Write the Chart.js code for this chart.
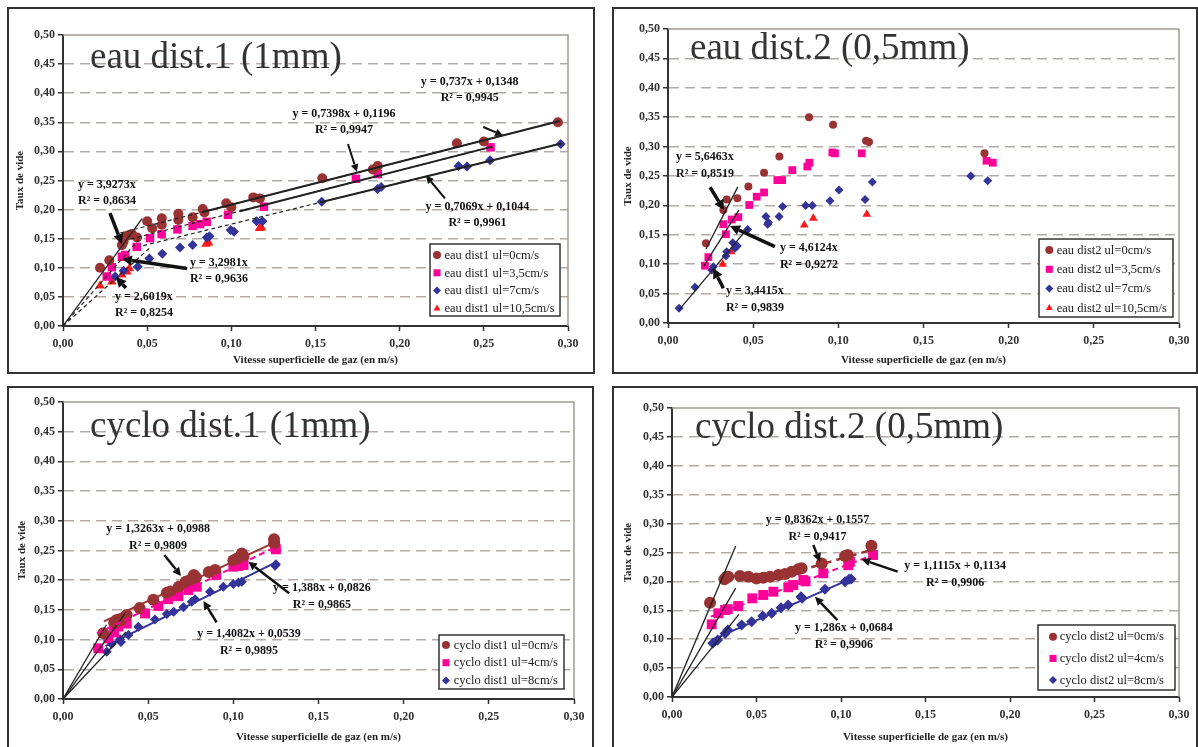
<!DOCTYPE html>
<html>
<head>
<meta charset="utf-8">
<script src="https://cdn.jsdelivr.net/npm/chart.js@4.4.0/dist/chart.umd.min.js"></script>
<style>
  html, body { margin: 0; padding: 0; background: #fff; width: 1198px; height: 747px; overflow: hidden; }
  .panel { position: absolute; border: 2px solid #333; box-sizing: border-box; background: #fff; overflow: hidden; }
  .panel canvas { position: absolute; left: 0; top: 0; }
</style>
</head>
<body>
<div class="panel" style="left:7px;top:7px;width:588px;height:367px"><canvas id="c1" width="584" height="363"></canvas></div>
<div class="panel" style="left:612px;top:7px;width:586px;height:367px"><canvas id="c2" width="582" height="363"></canvas></div>
<div class="panel" style="left:7px;top:386px;width:587px;height:380px"><canvas id="c3" width="583" height="361"></canvas></div>
<div class="panel" style="left:612px;top:386px;width:586px;height:380px"><canvas id="c4" width="582" height="361"></canvas></div>
<script>
// ---- data (x = vitesse gaz m/s, y = taux de vide) ----
const eau1_ul0 = [[0.022,0.100],[0.0275,0.113],[0.035,0.139],[0.036,0.145],[0.038,0.155],[0.041,0.158],[0.044,0.152],[0.050,0.180],[0.053,0.168],[0.0587,0.185],[0.0587,0.174],[0.0685,0.193],[0.0685,0.182],[0.077,0.187],[0.083,0.201],[0.084,0.195],[0.097,0.211],[0.100,0.204],[0.113,0.221],[0.117,0.219],[0.154,0.254],[0.184,0.269],[0.187,0.275],[0.234,0.314],[0.250,0.317],[0.294,0.350]];
const eau1_ul35 = [[0.026,0.085],[0.029,0.101],[0.035,0.119],[0.037,0.122],[0.0438,0.136],[0.0517,0.151],[0.0586,0.158],[0.068,0.166],[0.077,0.172],[0.0814,0.175],[0.0854,0.179],[0.098,0.191],[0.1194,0.205],[0.174,0.253],[0.187,0.261],[0.254,0.307]];
const eau1_ul7 = [[0.031,0.085],[0.036,0.095],[0.0444,0.102],[0.0513,0.116],[0.059,0.124],[0.0695,0.135],[0.077,0.139],[0.0854,0.152],[0.087,0.154],[0.0996,0.165],[0.1016,0.162],[0.115,0.180],[0.1185,0.180],[0.1537,0.2135],[0.1868,0.2354],[0.189,0.239],[0.235,0.275],[0.240,0.274],[0.2537,0.285],[0.2957,0.3127]];
const eau1_ul105 = [[0.022,0.069],[0.029,0.076],[0.035,0.088],[0.038,0.093],[0.0394,0.099],[0.085,0.141],[0.0865,0.143],[0.1167,0.168],[0.118,0.169]];
// [slope, intercept, xStart, xEnd]
const eau1Fits = [[0.737,0.1348,0.034,0.295],[0.7398,0.1196,0.040,0.255],[0.7069,0.1044,0.0477,0.296],
  [0.737,0.1348,0.083,0.295],[0.7398,0.1196,0.105,0.255],[0.7069,0.1044,0.153,0.296],
  [3.9273,0,0,0.047],[3.2981,0,0,0.045],[2.6019,0,0,0.052]];

const eau2_ul0 = [[0.0223,0.1355],[0.0325,0.192],[0.0345,0.210],[0.0407,0.212],[0.0472,0.232],[0.0564,0.2556],[0.0654,0.283],[0.0828,0.350],[0.0969,0.337],[0.1163,0.310],[0.118,0.308],[0.1858,0.2886]];
const eau2_ul35 = [[0.0217,0.0975],[0.0237,0.112],[0.0325,0.168],[0.034,0.151],[0.0374,0.176],[0.0413,0.180],[0.0477,0.2007],[0.0521,0.2148],[0.0564,0.222],[0.0642,0.243],[0.067,0.243],[0.073,0.260],[0.0818,0.266],[0.083,0.2726],[0.0965,0.290],[0.098,0.2886],[0.1137,0.2886],[0.187,0.276],[0.1907,0.2726]];
const eau2_ul7 = [[0.0065,0.025],[0.0159,0.0607],[0.0257,0.090],[0.0266,0.0958],[0.034,0.114],[0.0345,0.121],[0.038,0.1366],[0.0393,0.127],[0.0407,0.131],[0.0468,0.159],[0.0575,0.181],[0.0585,0.168],[0.059,0.171],[0.0652,0.181],[0.0673,0.198],[0.0808,0.200],[0.0847,0.200],[0.0951,0.208],[0.1004,0.226],[0.1157,0.210],[0.120,0.240],[0.1777,0.250],[0.1877,0.242]];
const eau2_ul105 = [[0.0321,0.100],[0.037,0.121],[0.080,0.1667],[0.0853,0.178],[0.1167,0.185]];
const eau2Fits = [[5.6463,0,0.0223,0.041],[4.6124,0,0.021,0.0417],[3.4415,0,0.0065,0.047]];

const cyclo1_ul0 = [[0.0237,0.1106],[0.030,0.128],[0.0315,0.133],[0.034,0.133],[0.0374,0.1414],[0.045,0.153],[0.053,0.167],[0.061,0.179],[0.063,0.181],[0.068,0.189],[0.072,0.1975],[0.075,0.201],[0.0768,0.2088],[0.078,0.205],[0.0856,0.214],[0.0893,0.217],[0.100,0.233],[0.102,0.236],[0.105,0.245],[0.106,0.240],[0.1239,0.269],[0.124,0.262]];
const cyclo1_ul4 = [[0.0207,0.0853],[0.0266,0.102],[0.030,0.112],[0.0325,0.122],[0.0374,0.127],[0.0482,0.144],[0.056,0.1566],[0.0618,0.168],[0.0677,0.173],[0.0736,0.1835],[0.076,0.190],[0.0785,0.189],[0.090,0.209],[0.100,0.2227],[0.103,0.224],[0.106,0.2256],[0.1245,0.2564],[0.125,0.252]];
const cyclo1_ul8 = [[0.0257,0.0797],[0.0286,0.0926],[0.0335,0.1005],[0.034,0.096],[0.0384,0.1077],[0.0442,0.1217],[0.054,0.134],[0.061,0.143],[0.065,0.147],[0.0707,0.1544],[0.0756,0.1638],[0.0775,0.168],[0.0863,0.1806],[0.0941,0.189],[0.100,0.1936],[0.103,0.196],[0.105,0.1975],[0.1245,0.2244],[0.125,0.227]];
const cyclo1Fits = [[1.3263,0.0988,0.024,0.125],[1.388,0.0826,0.02,0.125],[1.4082,0.0539,0.025,0.125],
  [4.9,0,0,0.0255],[3.95,0,0,0.0365],[3.05,0,0,0.037]];

const cyclo2_ul0 = [[0.0225,0.163],[0.031,0.2036],[0.0324,0.208],[0.0333,0.208],[0.0402,0.2093],[0.0452,0.208],[0.050,0.205],[0.054,0.2065],[0.058,0.208],[0.063,0.211],[0.0669,0.2128],[0.0708,0.2168],[0.0747,0.221],[0.0767,0.2226],[0.0886,0.231],[0.1024,0.244],[0.104,0.2457],[0.118,0.2617]];
const cyclo2_ul4 = [[0.0235,0.1257],[0.0274,0.1448],[0.0314,0.1505],[0.033,0.152],[0.0392,0.1574],[0.0475,0.1707],[0.054,0.1765],[0.060,0.1822],[0.0688,0.1898],[0.0718,0.1938],[0.0777,0.2024],[0.079,0.200],[0.0895,0.214],[0.1043,0.228],[0.1053,0.234],[0.119,0.2457]];
const cyclo2_ul8 = [[0.0241,0.093],[0.027,0.0986],[0.0314,0.110],[0.033,0.116],[0.0412,0.1246],[0.0471,0.130],[0.0537,0.140],[0.059,0.1448],[0.0645,0.1545],[0.0688,0.159],[0.0763,0.1735],[0.077,0.171],[0.0905,0.1863],[0.1024,0.1995],[0.1047,0.2036],[0.106,0.204]];
const cyclo2Fits = [[0.8362,0.1557,0.075,0.12],[1.1115,0.1134,0.023,0.12],[1.286,0.0684,0.024,0.106],
  [6.93,0,0,0.0377],[5.0,0,0,0.0377],[3.61,0,0,0.0396]];

const eau1Names = ['eau dist1 ul=0cm/s','eau dist1 ul=3,5cm/s','eau dist1 ul=7cm/s','eau dist1 ul=10,5cm/s'];
const eau2Names = ['eau dist2 ul=0cm/s','eau dist2 ul=3,5cm/s','eau dist2 ul=7cm/s','eau dist2 ul=10,5cm/s'];
const cyclo1Names = ['cyclo dist1 ul=0cm/s','cyclo dist1 ul=4cm/s','cyclo dist1 ul=8cm/s'];
const cyclo2Names = ['cyclo dist2 ul=0cm/s','cyclo dist2 ul=4cm/s','cyclo dist2 ul=8cm/s'];

const xTicksMax = 0.3, yTicksMax = 0.5, tickStep = 0.05;

// ---- styles ----
const FONT = '"Liberation Serif", "Times New Roman", serif';
const MARK = [
  { style: 'circle', color: '#993333' },
  { style: 'rect', color: '#ff0099' },
  { style: 'rectRot', color: '#333399' },
  { style: 'triangle', color: '#ff1a1a' }
];
const LS = {
  kDash: { color: '#222', width: 1.2, dash: [4, 3] },
  kBold: { color: '#222', width: 2, dash: [] },
  kThin: { color: '#222', width: 1.3, dash: [] },
  red: { color: '#993333', width: 2, dash: [] },
  redDash: { color: '#993333', width: 2.5, dash: [8, 5] },
  pinkDash: { color: '#ff0099', width: 2, dash: [6, 4] },
  blue: { color: '#333399', width: 2, dash: [] }
};

const panels = [
  {
    canvas: 'c1', title: 'eau dist.1 (1mm)', titleDx: 27, titleDy: 33,
    yW: 54, xH: 46, padTop: 26, padRight: 25, yTitlePad: 4.4, xTitlePad: 5.4,
    series: [eau1_ul0, eau1_ul35, eau1_ul7, eau1_ul105], names: eau1Names, sizes: [5, 6, 5, 5.5],
    fits: eau1Fits, fitStyles: ['kDash','kDash','kDash','kBold','kBold','kBold','kThin','kDash','kDash'],
    legend: { w: 130, h: 72, right: 8, bottom: 10, first: 11, row: 17.8, mx: 7, tx: 14.5 },
    lineH: 16,
    notes: [
      { t: ['y = 3,9273x', 'R² = 0,8634'], x: 0.0089, y: 0.242, align: 'left', from: [0.0279, 0.194], to: [0.035, 0.141], w: 3.5 },
      { t: ['y = 3,2981x', 'R² = 0,9636'], x: 0.0754, y: 0.1077, align: 'left', from: [0.0737, 0.0988], to: [0.035, 0.115], w: 3.5 },
      { t: ['y = 2,6019x', 'R² = 0,8254'], x: 0.0309, y: 0.0503, align: 'left', from: [0.0374, 0.0653], to: [0.0315, 0.0842], w: 3.5 },
      { t: ['y = 0,7398x + 0,1196', 'R² = 0,9947'], x: 0.1669, y: 0.364, align: 'center', from: [0.1693, 0.3127], to: [0.1746, 0.2646], w: 2 },
      { t: ['y = 0,737x + 0,1348', 'R² = 0,9945'], x: 0.2416, y: 0.4197, align: 'center', from: [0.2497, 0.3419], to: [0.2614, 0.3273], w: 2 },
      { t: ['y = 0,7069x + 0,1044', 'R² = 0,9961'], x: 0.2462, y: 0.2039, align: 'center', from: [0.2269, 0.2194], to: [0.2156, 0.2586], w: 2 }
    ]
  },
  {
    canvas: 'c2', title: 'eau dist.2 (0,5mm)', titleDx: 22, titleDy: 29.5,
    yW: 54, xH: 49, padTop: 20, padRight: 17, yTitlePad: 7.7, xTitlePad: 5.4,
    series: [eau2_ul0, eau2_ul35, eau2_ul7, eau2_ul105], names: eau2Names, sizes: [4, 5.5, 4.5, 5],
    fits: eau2Fits, fitStyles: ['kThin','kThin','kThin'],
    legend: { w: 134, h: 78, right: 6, bottom: 6, first: 11, row: 19.3, mx: 10.3, tx: 17.7 },
    lineH: 17,
    notes: [
      { t: ['y = 5,6463x', 'R² = 0,8519'], x: 0.0047, y: 0.2818, align: 'left', from: [0.0247, 0.2308], to: [0.0329, 0.1922], w: 3.5 },
      { t: ['y = 4,6124x', 'R² = 0,9272'], x: 0.0657, y: 0.127, align: 'left', from: [0.0628, 0.1298], to: [0.0364, 0.165], w: 3.5 },
      { t: ['y = 3,4415x', 'R² = 0,9839'], x: 0.034, y: 0.0549, align: 'left', from: [0.0325, 0.059], to: [0.0266, 0.093], w: 3.5 }
    ]
  },
  {
    canvas: 'c3', title: 'cyclo dist.1 (1mm)', titleDx: 27, titleDy: 34.7,
    yW: 54, xH: 50, padTop: 14, padRight: 18, yTitlePad: 6.1, xTitlePad: 5.7,
    series: [cyclo1_ul0, cyclo1_ul4, cyclo1_ul8], names: cyclo1Names, sizes: [6, 7, 5],
    fits: cyclo1Fits, fitStyles: ['red','pinkDash','blue','kThin','kThin','kThin'],
    legend: { w: 125, h: 54, right: 10, bottom: 10, first: 10, row: 17.7, mx: 7, tx: 14.7 },
    lineH: 17,
    notes: [
      { t: ['y = 1,3263x + 0,0988', 'R² = 0,9809'], x: 0.0558, y: 0.2862, align: 'center', from: [0.0595, 0.2424], to: [0.0693, 0.2071], w: 2.5 },
      { t: ['y = 1,388x + 0,0826', 'R² = 0,9865'], x: 0.152, y: 0.1869, align: 'center', from: [0.1328, 0.178], to: [0.1088, 0.2311], w: 2.5 },
      { t: ['y = 1,4082x + 0,0539', 'R² = 0,9895'], x: 0.1092, y: 0.1089, align: 'center', from: [0.0902, 0.1291], to: [0.0824, 0.165], w: 2.5 }
    ]
  },
  {
    canvas: 'c4', title: 'cyclo dist.2 (0,5mm)', titleDx: 23, titleDy: 30.3,
    yW: 58, xH: 52, padTop: 20, padRight: 17, yTitlePad: 7.7, xTitlePad: 5.7,
    series: [cyclo2_ul0, cyclo2_ul4, cyclo2_ul8], names: cyclo2Names, sizes: [6, 7, 5.5],
    fits: cyclo2Fits, fitStyles: ['redDash','pinkDash','blue','kThin','kThin','kThin'],
    legend: { w: 137, h: 65, right: 4, bottom: 7, first: 11.7, row: 21.7, mx: 15, tx: 21.7 },
    lineH: 17,
    notes: [
      { t: ['y = 0,8362x + 0,1557', 'R² = 0,9417'], x: 0.0861, y: 0.3062, align: 'center', from: [0.0836, 0.263], to: [0.0876, 0.234], w: 2.5 },
      { t: ['y = 1,1115x + 0,1134', 'R² = 0,9906'], x: 0.1675, y: 0.2266, align: 'center', from: [0.1335, 0.2168], to: [0.1122, 0.2382], w: 2.5 },
      { t: ['y = 1,286x + 0,0684', 'R² = 0,9906'], x: 0.1017, y: 0.1188, align: 'center', from: [0.0978, 0.1332], to: [0.0846, 0.1735], w: 2.5 }
    ]
  }
];

const fmt = v => Number(v).toFixed(2).replace('.', ',');

function marker(ctx, style, color, x, y, r) {
  ctx.fillStyle = color;
  ctx.beginPath();
  if (style === 'circle') {
    ctx.arc(x, y, r, 0, Math.PI * 2);
  } else if (style === 'rect') {
    const s = r * Math.SQRT1_2;
    ctx.rect(x - s, y - s, 2 * s, 2 * s);
  } else if (style === 'rectRot') {
    ctx.moveTo(x, y - r); ctx.lineTo(x + r, y); ctx.lineTo(x, y + r); ctx.lineTo(x - r, y); ctx.closePath();
  } else {
    ctx.moveTo(x, y - r); ctx.lineTo(x + r * 0.87, y + r * 0.5); ctx.lineTo(x - r * 0.87, y + r * 0.5); ctx.closePath();
  }
  ctx.fill();
}

function arrow(ctx, x1, y1, x2, y2, w) {
  const ang = Math.atan2(y2 - y1, x2 - x1);
  const hl = 5 + w * 1.4, hw = 2 + w * 0.9;
  const bx = x2 - hl * Math.cos(ang), by = y2 - hl * Math.sin(ang);
  ctx.lineWidth = w;
  ctx.beginPath(); ctx.moveTo(x1, y1); ctx.lineTo(bx, by); ctx.stroke();
  ctx.beginPath();
  ctx.moveTo(x2, y2);
  ctx.lineTo(bx + hw * Math.sin(ang), by - hw * Math.cos(ang));
  ctx.lineTo(bx - hw * Math.sin(ang), by + hw * Math.cos(ang));
  ctx.closePath(); ctx.fill();
}

function decor(p) {
  return {
    id: 'decor',
    beforeDatasetsDraw(chart) {
      const { ctx, chartArea: a } = chart;
      ctx.save();
      // plot frame top / right
      ctx.strokeStyle = '#a39a96';
      ctx.lineWidth = 1.5;
      ctx.beginPath();
      ctx.moveTo(a.left, a.top); ctx.lineTo(a.right, a.top); ctx.lineTo(a.right, a.bottom);
      ctx.stroke();
      // big title inside the plot
      ctx.font = '37px ' + FONT;
      ctx.fillStyle = '#333';
      ctx.textAlign = 'left';
      ctx.textBaseline = 'alphabetic';
      ctx.fillText(p.title, a.left + p.titleDx, a.top + p.titleDy);
      ctx.restore();
    },
    afterDatasetsDraw(chart) {
      const { ctx, chartArea: a, scales: { x, y } } = chart;
      ctx.save();
      // equations + arrows
      ctx.fillStyle = '#111';
      ctx.strokeStyle = '#111';
      ctx.font = 'bold 12px ' + FONT;
      ctx.textBaseline = 'middle';
      p.notes.forEach(n => {
        ctx.textAlign = n.align;
        const px = x.getPixelForValue(n.x), py = y.getPixelForValue(n.y);
        n.t.forEach((s, i) => ctx.fillText(s, px, py + i * p.lineH));
        arrow(ctx, x.getPixelForValue(n.from[0]), y.getPixelForValue(n.from[1]),
          x.getPixelForValue(n.to[0]), y.getPixelForValue(n.to[1]), n.w);
      });
      // legend box
      const lg = p.legend;
      const bx = a.right - lg.right - lg.w, by = a.bottom - lg.bottom - lg.h;
      ctx.fillStyle = '#fff';
      ctx.fillRect(bx, by, lg.w, lg.h);
      ctx.strokeStyle = '#333';
      ctx.lineWidth = 1.5;
      ctx.strokeRect(bx, by, lg.w, lg.h);
      ctx.textAlign = 'left';
      ctx.font = '12.5px ' + FONT;
      p.names.forEach((name, i) => {
        const cy = by + lg.first + i * lg.row;
        marker(ctx, MARK[i].style, MARK[i].color, bx + lg.mx, cy, MARK[i].style === 'rect' ? 5 : 4);
        ctx.fillStyle = '#222';
        ctx.fillText(name, bx + lg.tx, cy + 0.5);
      });
      ctx.restore();
    }
  };
}

function makeChart(p) {
  const datasets = [];
  p.fits.forEach((f, i) => {
    const st = LS[p.fitStyles[i]];
    datasets.push({
      label: '',
      data: [{ x: f[2], y: f[0] * f[2] + f[1] }, { x: f[3], y: f[0] * f[3] + f[1] }],
      showLine: true, fill: false,
      borderColor: st.color, borderWidth: st.width, borderDash: st.dash,
      pointRadius: 0, order: 0
    });
  });
  p.series.forEach((d, i) => {
    datasets.push({
      label: p.names[i],
      data: d.map(([vx, vy]) => ({ x: vx, y: vy })),
      showLine: false,
      pointStyle: MARK[i].style,
      pointRadius: p.sizes[i],
      pointBackgroundColor: MARK[i].color,
      pointBorderColor: MARK[i].color,
      pointBorderWidth: 0,
      order: 1
    });
  });

  new Chart(document.getElementById(p.canvas), {
    type: 'scatter',
    data: { datasets },
    options: {
      responsive: false,
      animation: false,
      events: [],
      layout: { padding: { left: 0, top: p.padTop, right: p.padRight, bottom: 0 } },
      plugins: { legend: { display: false }, tooltip: { enabled: false }, title: { display: false } },
      scales: {
        x: {
          type: 'linear', min: 0, max: xTicksMax,
          ticks: { stepSize: tickStep, callback: fmt, color: '#333', font: { family: FONT, size: 12, weight: 'bold' }, padding: 6, maxRotation: 0, autoSkip: false },
          grid: { drawOnChartArea: false, drawTicks: true, tickLength: 5, tickColor: '#333', tickWidth: 1.5 },
          border: { color: '#333', width: 2 },
          title: { display: true, text: 'Vitesse superficielle de gaz (en m/s)', color: '#222', font: { family: FONT, size: 11, weight: 'bold' }, padding: { top: 0, bottom: p.xTitlePad } },
          afterFit(s) { s.height = p.xH; s.paddingLeft = 0; s.paddingRight = 0; }
        },
        y: {
          type: 'linear', min: 0, max: yTicksMax,
          ticks: { stepSize: tickStep, callback: fmt, color: '#333', font: { family: FONT, size: 12, weight: 'bold' }, padding: 3 },
          grid: {
            color: c => (c.tick && c.tick.value > 1e-6 && c.tick.value < yTicksMax - 1e-6) ? '#b3aaa6' : 'rgba(0,0,0,0)',
            lineWidth: 1.5, drawTicks: true, tickLength: 5, tickColor: '#333', tickWidth: 1.5
          },
          border: { color: '#333', width: 2, dash: [10, 6] },
          title: { display: true, text: 'Taux de vide', color: '#222', font: { family: FONT, size: 11, weight: 'bold' }, padding: { top: p.yTitlePad, bottom: 0 } },
          afterFit(s) { s.width = p.yW; s.paddingTop = 0; s.paddingBottom = 0; }
        }
      }
    },
    plugins: [decor(p)]
  });
}

panels.forEach(makeChart);
</script>
</body>
</html>
